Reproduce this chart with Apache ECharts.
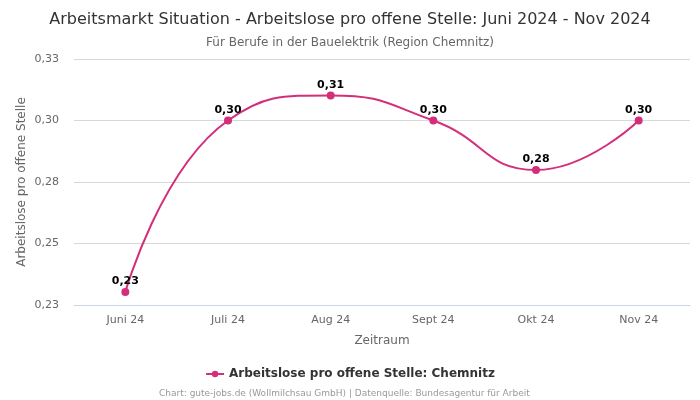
<!DOCTYPE html>
<html><head><meta charset="utf-8">
<script src="https://cdn.jsdelivr.net/npm/echarts@6/dist/echarts.min.js"></script>
<style>html,body{margin:0;padding:0;background:#fff}#c{width:700px;height:400px}</style>
</head><body><div id="c"></div>
<script>
var categories = ["Juni 24","Juli 24","Aug 24","Sept 24","Okt 24","Nov 24"];
var values = [0.2303, 0.300, 0.3102, 0.300, 0.2799, 0.300];
var seriesName = "Arbeitslose pro offene Stelle: Chemnitz";
var FONT = "DejaVu Sans";
function fmt(v){ return v.toFixed(2).replace('.', ','); }
var chart = echarts.init(document.getElementById('c'), null, {renderer:'canvas'});
chart.setOption({
  animation:false,
  textStyle:{fontFamily:FONT},
  title:[
    {text:"Arbeitsmarkt Situation - Arbeitslose pro offene Stelle: Juni 2024 - Nov 2024",left:'center',top:7,
     textStyle:{fontFamily:FONT,fontSize:16,fontWeight:'normal',color:'#333'}},
    {text:"Für Berufe in der Bauelektrik (Region Chemnitz)",left:'center',top:32,
     textStyle:{fontFamily:FONT,fontSize:12,fontWeight:'normal',color:'#666'}},
    {text:"Chart: gute-jobs.de (Wollmilchsau GmbH) | Datenquelle: Bundesagentur für Arbeit",left:154,top:384,
     textStyle:{fontFamily:FONT,fontSize:9,fontWeight:'normal',color:'#999'}}
  ],
  legend:{bottom:15,left:'center',itemWidth:18,itemHeight:8,
    textStyle:{fontFamily:FONT,fontSize:12,fontWeight:'bold',color:'#333'},
    data:[seriesName]},
  grid:{left:74,right:10,top:59,bottom:95},
  xAxis:{type:'category',data:categories,boundaryGap:true,
    name:'Zeitraum',nameLocation:'middle',nameGap:30,
    nameTextStyle:{fontFamily:FONT,fontSize:12,color:'#666'},
    axisLine:{lineStyle:{color:'#ccd6eb'}},axisTick:{show:false},
    axisLabel:{fontFamily:FONT,fontSize:11,color:'#666',margin:10}},
  yAxis:{type:'value',min:0.225,max:0.325,interval:0.025,
    name:'Arbeitslose pro offene Stelle',nameLocation:'middle',nameGap:46,nameMoveOverlap:false,
    nameTextStyle:{fontFamily:FONT,fontSize:12,color:'#666'},
    axisLine:{show:false},axisTick:{show:false},
    axisLabel:{fontFamily:FONT,fontSize:11,color:'#666',margin:15,formatter:function(v){return fmt(v);}},
    splitLine:{lineStyle:{color:'#d8d8d8'}}},
  series:[{name:seriesName,type:'line',data:values,smooth:0.5,
    symbol:'circle',symbolSize:8,
    itemStyle:{color:'#d42e7a'},lineStyle:{color:'#d42e7a',width:2},
    label:{show:true,position:'top',distance:1,fontFamily:FONT,fontSize:11,fontWeight:'bold',color:'#000',
      formatter:function(p){return fmt(p.value);}}}]
});
</script></body></html>
